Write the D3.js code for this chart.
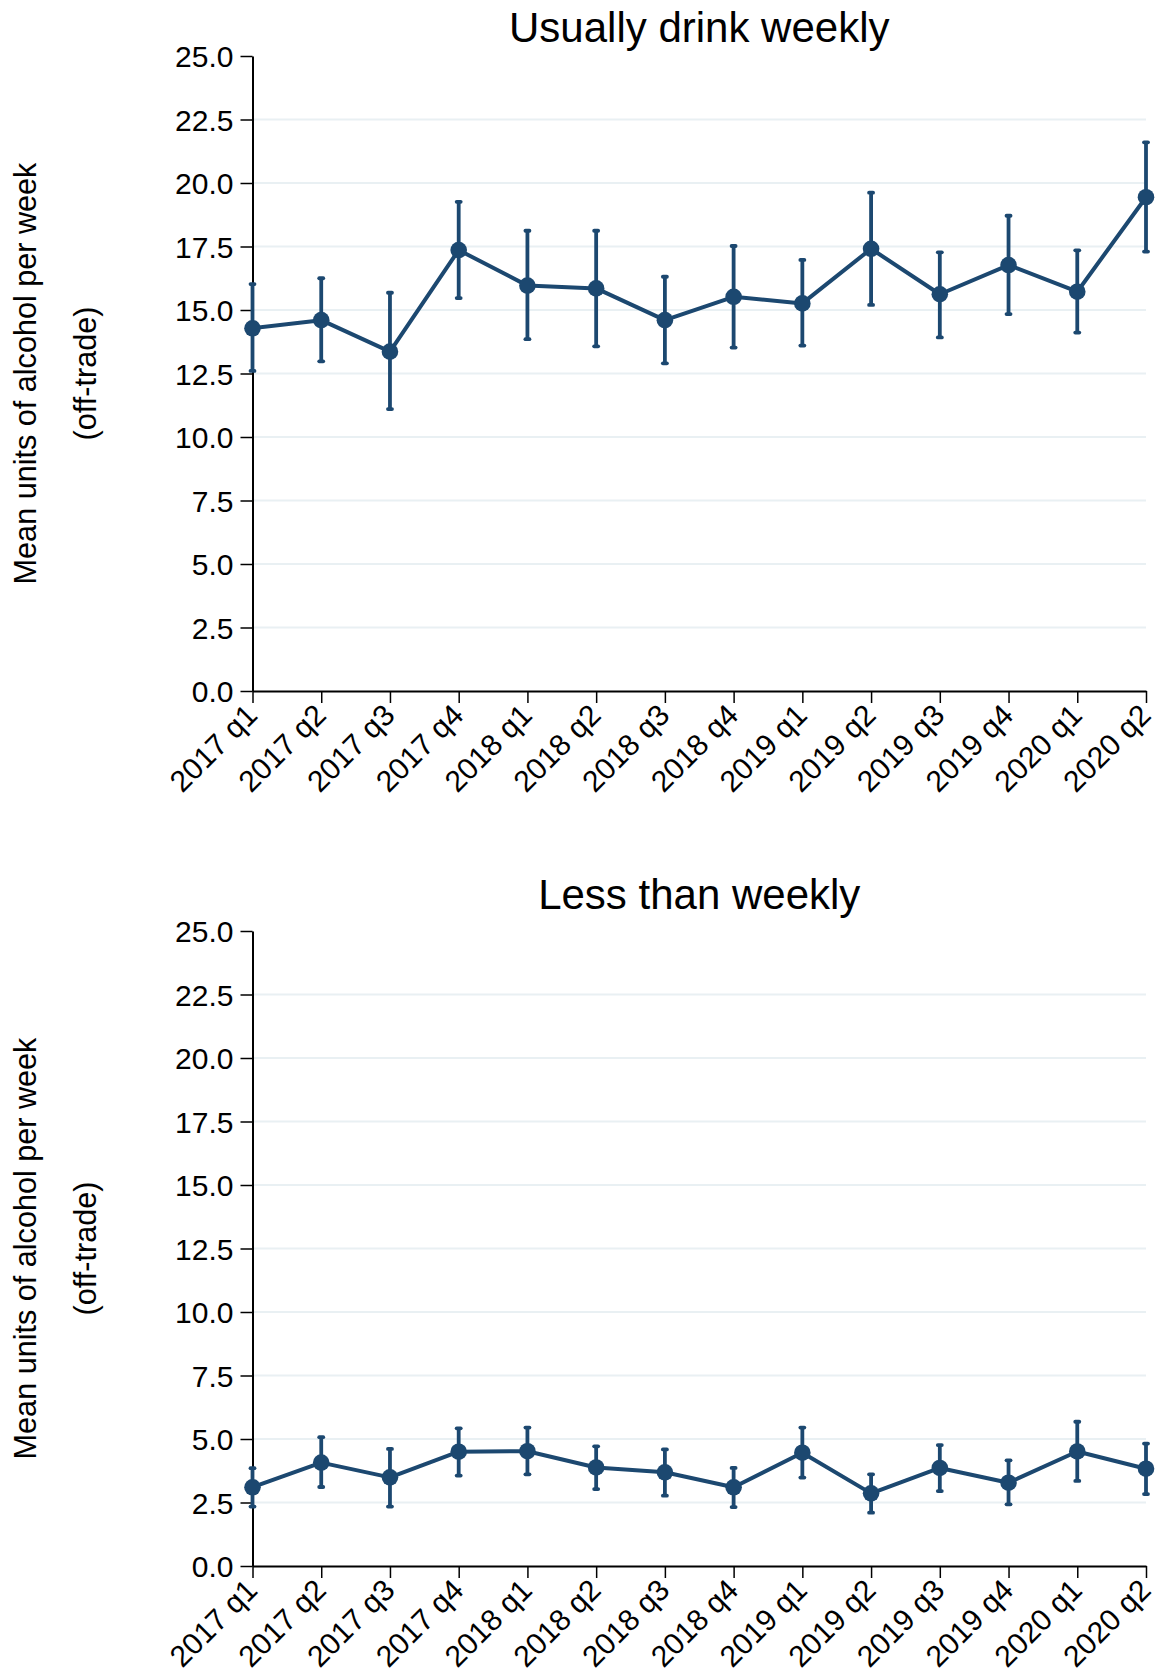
<!DOCTYPE html>
<html><head><meta charset="utf-8">
<script src="https://cdn.jsdelivr.net/npm/d3@7"></script>
<style>
html,body{margin:0;padding:0;background:#fff;}
text{font-family:"Liberation Sans",Arial,Helvetica,sans-serif;fill:#000;}
</style></head><body>
<svg id="chart" width="1161" height="1669"></svg>
<script>
const categories = ["2017 q1","2017 q2","2017 q3","2017 q4","2018 q1","2018 q2","2018 q3","2018 q4","2019 q1","2019 q2","2019 q3","2019 q4","2020 q1","2020 q2"];
const yTicks = [0,2.5,5,7.5,10,12.5,15,17.5,20,22.5,25];

const weeklyMean = [14.28,14.6,13.36,17.36,15.96,15.85,14.6,15.52,15.26,17.41,15.62,16.77,15.72,19.44];
const weeklyLow  = [12.6,12.98,11.1,15.47,13.85,13.57,12.9,13.52,13.6,15.2,13.92,14.84,14.11,17.3];
const weeklyHigh = [16.02,16.25,15.68,19.26,18.12,18.12,16.31,17.52,16.97,19.62,17.27,18.71,17.35,21.6];

const lessMean = [3.10,4.07,3.49,4.50,4.52,3.88,3.69,3.10,4.46,2.86,3.86,3.28,4.51,3.83];
const lessLow  = [2.34,3.11,2.34,3.56,3.61,3.03,2.77,2.32,3.48,2.10,2.95,2.43,3.35,2.83];
const lessHigh = [3.85,5.07,4.61,5.42,5.45,4.71,4.59,3.86,5.45,3.61,4.76,4.16,5.68,4.82];

const panels = [
  {title:"Usually drink weekly", mean:weeklyMean, low:weeklyLow, high:weeklyHigh, top:56, bottom:691, titleY:42},
  {title:"Less than weekly", mean:lessMean, low:lessLow, high:lessHigh, top:931, bottom:1566, titleY:909}
];

const color = "#1c4870";
const gridColor = "#e9f0f3";
const left = 252.5, right = 1146;
const svg = d3.select("#chart");

const x = d3.scalePoint().domain(categories).range([left, right]).padding(0);

panels.forEach(p => {
  const g = svg.append("g");
  const y = d3.scaleLinear().domain([0,25]).range([p.bottom, p.top]);

  // gridlines
  g.append("g").selectAll("line").data(yTicks.filter(t => t>0 && t<25)).join("line")
    .attr("x1", left).attr("x2", right)
    .attr("y1", d=>y(d)).attr("y2", d=>y(d))
    .attr("stroke", gridColor).attr("stroke-width", 2);

  // y axis
  const ya = g.append("g").attr("transform", `translate(${left},0)`)
    .call(d3.axisLeft(y).tickValues(yTicks).tickFormat(d3.format(".1f")).tickSize(12).tickPadding(7).tickSizeOuter(0));
  ya.select(".domain").attr("stroke","#000").attr("stroke-width",2);
  ya.selectAll(".tick line").attr("stroke","#000").attr("stroke-width",1.5);
  ya.selectAll(".tick text").attr("font-size",30).attr("dy","0.36em");

  // x axis
  const xa = g.append("g").attr("transform", `translate(0,${p.bottom})`)
    .call(d3.axisBottom(x).tickSize(12).tickSizeOuter(0));
  xa.select(".domain").attr("stroke","#000").attr("stroke-width",2);
  xa.selectAll(".tick line").attr("stroke","#000").attr("stroke-width",1.5);
  xa.selectAll(".tick text").attr("font-size",30)
    .attr("text-anchor","end").attr("dy",0).attr("y",0)
    .attr("transform","translate(6,26) rotate(-45)");

  // title
  g.append("text").attr("x",(left+right)/2).attr("y",p.titleY)
    .attr("text-anchor","middle").attr("font-size",42).text(p.title);

  // y label
  const cy = (p.top+p.bottom)/2;
  g.append("text").attr("transform",`translate(36,${cy}) rotate(-90)`)
    .attr("text-anchor","middle").attr("font-size",30.6).text("Mean units of alcohol per week");
  g.append("text").attr("transform",`translate(96,${cy}) rotate(-90)`)
    .attr("text-anchor","middle").attr("font-size",30.6).text("(off-trade)");

  // line
  const line = d3.line().x((d,i)=>x(categories[i])).y(d=>y(d));
  g.append("path").datum(p.mean).attr("d",line)
    .attr("fill","none").attr("stroke",color).attr("stroke-width",4).attr("stroke-linejoin","round");

  // error bars
  const eb = g.append("g");
  eb.selectAll("line.v").data(categories).join("line").attr("class","v")
    .attr("x1",d=>x(d)).attr("x2",d=>x(d))
    .attr("y1",(d,i)=>y(p.low[i])).attr("y2",(d,i)=>y(p.high[i]))
    .attr("stroke",color).attr("stroke-width",3.8);
  ["low","high"].forEach(k=>{
    eb.selectAll("line.c"+k).data(categories).join("line").attr("class","c"+k)
      .attr("x1",d=>x(d)-2).attr("x2",d=>x(d)+2)
      .attr("y1",(d,i)=>y(p[k][i])).attr("y2",(d,i)=>y(p[k][i]))
      .attr("stroke",color).attr("stroke-width",3.8).attr("stroke-linecap","round");
  });

  // points
  g.append("g").selectAll("circle").data(categories).join("circle")
    .attr("cx",d=>x(d)).attr("cy",(d,i)=>y(p.mean[i])).attr("r",8.3).attr("fill",color);
});
</script>
</body></html>
